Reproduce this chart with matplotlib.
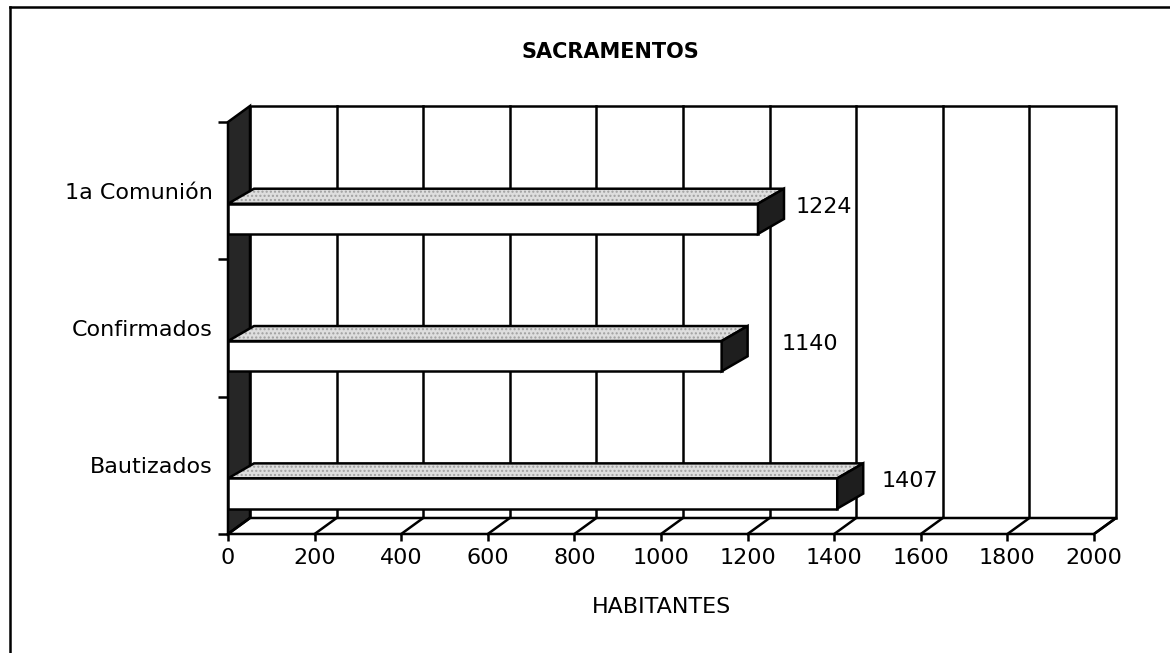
import matplotlib
matplotlib.use("Agg")
import matplotlib.pyplot as plt
from matplotlib.patches import Polygon, Rectangle
from matplotlib.lines import Line2D

# data
categories = ["Bautizados", "Confirmados", "1a Comunión"]
values = [1407, 1140, 1224]
x_ticks = list(range(0, 2001, 200))
title = "SACRAMENTOS"
x_label = "HABITANTES"

plt.rcParams['font.family'] = ['DejaVu Sans']

W, H = 1170, 653
fig = plt.figure(figsize=(W / 100, H / 100), dpi=100)
fig.patch.set_facecolor("white")

# front plane of the 3d box, in pixels
x0_px, x1_px = 228, 1094
y_bot_px, y_top_px = 534, 122
ax = fig.add_axes([x0_px / W, 1 - y_bot_px / H,
                   (x1_px - x0_px) / W, (y_bot_px - y_top_px) / H])
xmax = 2000
ax.set_xlim(0, xmax)
ax.set_ylim(-0.5, len(categories) - 0.5)
for s in ax.spines.values():
    s.set_visible(False)
ax.set_facecolor("none")

px_x = xmax / (x1_px - x0_px)                 # value units per pixel
px_y = len(categories) / (y_bot_px - y_top_px)  # category units per pixel

# depth offset of walls and bars
DX, DY = 22 * px_x, 16 * px_y
BDX, BDY = 26 * px_x, 15 * px_y

LW = 1.8
K = "black"
ytop = len(categories) - 0.5
ybot = -0.5

# back wall with gridlines
ax.add_patch(Rectangle((DX, ybot + DY), xmax, ytop - ybot, facecolor="white",
                       edgecolor=K, lw=LW, clip_on=False, zorder=1))
for v in x_ticks[1:-1]:
    ax.add_line(Line2D([v + DX, v + DX], [ybot + DY, ytop + DY], color=K,
                       lw=LW, clip_on=False, zorder=2))

# left wall
ax.add_patch(Polygon([(0, ybot), (0, ytop), (DX, ytop + DY), (DX, ybot + DY)],
                     closed=True, facecolor="#262626", edgecolor=K, lw=LW,
                     clip_on=False, zorder=3))

# floor
ax.add_patch(Polygon([(0, ybot), (xmax, ybot), (xmax + DX, ybot + DY), (DX, ybot + DY)],
                     closed=True, facecolor="white", edgecolor=K, lw=LW,
                     clip_on=False, zorder=3))
for v in x_ticks:
    ax.add_line(Line2D([v, v + DX], [ybot, ybot + DY], color=K, lw=LW,
                       clip_on=False, zorder=4))

# bars
bh = 0.11
shift = -0.205
for i, v in enumerate(values):
    yc = i + shift
    yb, yt = yc - bh, yc + bh
    top = [(0, yt), (v, yt), (v + BDX, yt + BDY), (BDX, yt + BDY)]
    ax.add_patch(Polygon(top, closed=True, facecolor="#dedede", hatch="....",
                         edgecolor="#a0a0a0", lw=0, clip_on=False, zorder=5))
    ax.add_patch(Polygon(top, closed=True, fill=False, edgecolor=K, lw=LW,
                         clip_on=False, zorder=6))
    ax.add_patch(Rectangle((0, yb), v, yt - yb, facecolor="white", edgecolor=K,
                           lw=LW, clip_on=False, zorder=6))
    side = [(v, yb), (v, yt), (v + BDX, yt + BDY), (v + BDX, yb + BDY)]
    ax.add_patch(Polygon(side, closed=True, facecolor="#1e1e1e", edgecolor=K,
                         lw=LW, clip_on=False, zorder=6))

# value labels (small per-bar nudges, in pixels, as in the original)
label_gap_px = [18, 34, 12]
for i, v in enumerate(values):
    ax.text(v + BDX + label_gap_px[i] * px_x, i + shift + 12 * px_y, str(v),
            ha="left", va="center", fontsize=16, color=K, zorder=7)

# axes ticks
ax.set_xticks(x_ticks)
ax.set_xticklabels([str(t) for t in x_ticks], fontsize=16)
ax.tick_params(axis="x", direction="out", length=5, width=LW, pad=5, colors=K)
ax.set_yticks(range(len(categories)))
ax.set_yticklabels(categories, fontsize=16)
ax.tick_params(axis="y", which="major", length=0, pad=11)
ax.set_yticks([i - 0.5 for i in range(len(categories) + 1)], minor=True)
ax.tick_params(axis="y", which="minor", direction="out", length=7, width=LW)

fig.text(610 / W, 1 - 52 / H, title, ha="center", va="center",
         fontsize=15, fontweight="bold")
fig.text(661 / W, 1 - 607 / H, x_label, ha="center", va="center", fontsize=16)

# outer frame of the scanned page
fig.add_artist(Line2D([10 / W, 10 / W], [0, 1 - 7 / H], color=K, lw=1.8,
                      transform=fig.transFigure))
fig.add_artist(Line2D([10 / W, 1], [1 - 7 / H, 1 - 7 / H], color=K, lw=1.8,
                      transform=fig.transFigure))

fig.savefig("out.png", dpi=100)
